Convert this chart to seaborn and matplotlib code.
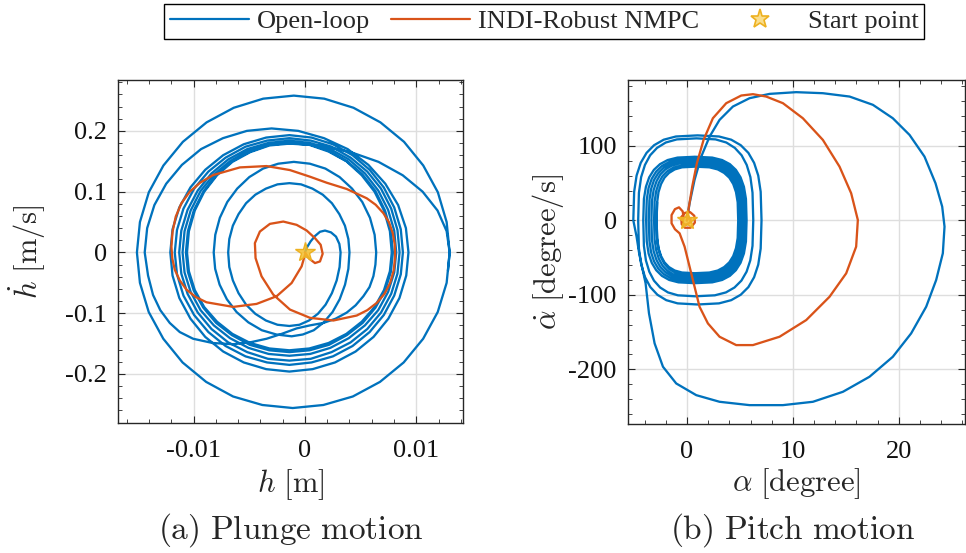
import numpy as np
import seaborn as sns
import matplotlib.pyplot as plt
from matplotlib.lines import Line2D
from matplotlib.ticker import MultipleLocator

sns.set_theme(style="white")
plt.rcParams['font.family'] = ['Liberation Serif', 'DejaVu Serif']
plt.rcParams['mathtext.fontset'] = 'cm'

# ---------------- data ----------------
# plunge phase portrait, open loop: (h in mm, hdot in m/s)
plunge_open = [
    (0, 0), (0.2, 0.009), (0.5, 0.018), (0.9, 0.027), (1.35, 0.034), (1.8, 0.036),
    (2.34, 0.033), (2.79, 0.026), (3.09, 0.014), (3.2, 0),
    (3.11, -0.024), (2.85, -0.046), (2.42, -0.067), (1.85, -0.086), (1.16, -0.101), (0.36, -0.112), (-0.50, -0.119), (-1.4, -0.121),
    (-2.47, -0.119), (-3.51, -0.112), (-4.46, -0.101), (-5.29, -0.086), (-5.97, -0.067), (-6.48, -0.046), (-6.80, -0.024), (-6.9, 0),
    (-6.80, 0.022), (-6.48, 0.044), (-5.97, 0.063), (-5.29, 0.081), (-4.46, 0.095), (-3.51, 0.105), (-2.47, 0.112), (-1.4, 0.114),
    (-0.35, 0.112), (0.67, 0.105), (1.60, 0.095), (2.42, 0.081), (3.09, 0.063), (3.59, 0.044), (3.90, 0.022), (4.0, 0),
    (3.90, -0.027), (3.60, -0.053), (3.12, -0.077), (2.48, -0.098), (1.69, -0.115), (0.79, -0.128), (-0.19, -0.135), (-1.2, -0.138),
    (-2.57, -0.135), (-3.88, -0.128), (-5.09, -0.115), (-6.15, -0.098), (-7.02, -0.077), (-7.67, -0.053), (-8.07, -0.027), (-8.2, 0),
    (-8.06, 0.029), (-7.65, 0.057), (-6.98, 0.083), (-6.09, 0.105), (-5.00, 0.124), (-3.76, 0.138), (-2.40, 0.146), (-1.0, 0.149),
    (0.44, 0.146), (1.83, 0.138), (3.11, 0.124), (4.23, 0.105), (5.15, 0.083), (5.84, 0.057), (6.26, 0.029), (6.4, 0),
    (6.33, -0.020), (6.15, -0.039), (5.80, -0.057), (5.25, -0.072), (4.55, -0.087), (3.75, -0.099), (2.75, -0.109),
    (1.65, -0.116), (0.45, -0.120), (-0.75, -0.125), (-2.10, -0.134), (-3.45, -0.142), (-4.95, -0.148), (-6.45, -0.151),
    (-8.30, -0.149), (-10.05, -0.142), (-11.25, -0.131), (-12.15, -0.116), (-13.00, -0.095), (-13.65, -0.070),
    (-14.10, -0.038), (-14.4, 0),
    (-14.18, 0.040), (-13.53, 0.078), (-12.47, 0.113), (-11.06, 0.144), (-9.34, 0.170), (-7.37, 0.188), (-5.22, 0.200), (-3.0, 0.204),
    (-0.60, 0.200), (1.71, 0.188), (3.84, 0.170), (5.70, 0.144), (7.22, 0.113), (8.37, 0.078), (9.07, 0.040), (9.3, 0),
    (9.10, -0.038), (8.49, -0.075), (7.49, -0.109), (6.16, -0.139), (4.55, -0.163), (2.70, -0.181), (0.69, -0.192), (-1.4, -0.196),
    (-3.49, -0.192), (-5.50, -0.181), (-7.35, -0.163), (-8.96, -0.139), (-10.29, -0.109), (-11.29, -0.075), (-11.90, -0.038), (-12.1, 0),
    (-11.90, 0.038), (-11.29, 0.074), (-10.29, 0.107), (-8.96, 0.136), (-7.35, 0.160), (-5.50, 0.178), (-3.49, 0.189), (-1.4, 0.193),
    # limit-cycle band
    (0.59, 0.189), (2.51, 0.178), (4.27, 0.160), (5.81, 0.136), (7.08, 0.107), (8.02, 0.074), (8.61, 0.038), (8.8, 0),
    (8.61, -0.036), (8.02, -0.071), (7.08, -0.103), (5.81, -0.131), (4.27, -0.154), (2.51, -0.171), (0.59, -0.181), (-1.4, -0.185),
    (-3.41, -0.181), (-5.34, -0.171), (-7.13, -0.154), (-8.68, -0.131), (-9.96, -0.103), (-10.92, -0.071), (-11.50, -0.036), (-11.7, 0),
    (-11.50, 0.037), (-10.92, 0.072), (-9.96, 0.105), (-8.68, 0.133), (-7.13, 0.156), (-5.34, 0.174), (-3.41, 0.184), (-1.4, 0.188),
    (0.53, 0.184), (2.39, 0.174), (4.10, 0.156), (5.60, 0.133), (6.83, 0.105), (7.75, 0.072), (8.31, 0.037), (8.5, 0),
    (8.31, -0.035), (7.75, -0.068), (6.83, -0.099), (5.60, -0.126), (4.10, -0.148), (2.39, -0.164), (0.53, -0.175), (-1.4, -0.178),
    (-3.33, -0.175), (-5.19, -0.164), (-6.90, -0.148), (-8.40, -0.126), (-9.63, -0.099), (-10.55, -0.068), (-11.11, -0.035), (-11.3, 0),
    (-11.11, 0.036), (-10.55, 0.070), (-9.63, 0.102), (-8.40, 0.130), (-6.90, 0.153), (-5.19, 0.170), (-3.33, 0.180), (-1.4, 0.184),
    (0.47, 0.180), (2.28, 0.170), (3.94, 0.153), (5.39, 0.130), (6.58, 0.102), (7.47, 0.070), (8.02, 0.036), (8.2, 0),
    (8.02, -0.033), (7.47, -0.065), (6.58, -0.095), (5.39, -0.120), (3.94, -0.141), (2.28, -0.157), (0.47, -0.167), (-1.4, -0.170),
    (-3.27, -0.167), (-5.08, -0.157), (-6.74, -0.141), (-8.19, -0.120), (-9.38, -0.095), (-10.27, -0.065), (-10.82, -0.033), (-11.0, 0),
    (-10.82, 0.035), (-10.27, 0.069), (-9.38, 0.101), (-8.19, 0.128), (-6.74, 0.150), (-5.08, 0.167), (-3.27, 0.178), (-1.4, 0.181),
    (0.41, 0.178), (2.16, 0.167), (3.77, 0.150), (5.18, 0.128), (6.33, 0.101), (7.19, 0.069), (7.72, 0.035), (7.9, 0),
    (7.72, -0.032), (7.19, -0.063), (6.33, -0.091), (5.18, -0.116), (3.77, -0.136), (2.16, -0.152), (0.41, -0.161), (-1.4, -0.164),
    (-3.21, -0.161), (-4.96, -0.152), (-6.57, -0.136), (-7.98, -0.116), (-9.13, -0.091), (-9.99, -0.063), (-10.52, -0.032), (-10.7, 0),
    (-10.52, 0.035), (-9.99, 0.069), (-9.13, 0.100), (-7.98, 0.127), (-6.57, 0.150), (-4.96, 0.166), (-3.21, 0.177), (-1.4, 0.180),
    (0.39, 0.177), (2.12, 0.166), (3.72, 0.150), (5.10, 0.127), (6.25, 0.100), (7.10, 0.069), (7.63, 0.035), (7.8, 0),
    (7.63, -0.031), (7.10, -0.062), (6.25, -0.090), (5.10, -0.114), (3.72, -0.134), (2.12, -0.149), (0.39, -0.158), (-1.4, -0.161),
    (-3.19, -0.158), (-4.92, -0.149), (-6.52, -0.134), (-7.90, -0.114), (-9.05, -0.090), (-9.90, -0.062), (-10.43, -0.031), (-10.6, 0),
    (-10.43, 0.035), (-9.90, 0.069), (-9.05, 0.100), (-7.90, 0.127), (-6.52, 0.149), (-4.92, 0.165), (-3.19, 0.176), (-1.4, 0.179),
    # outer excursion
    (1.41, 0.176), (4.12, 0.165), (6.61, 0.149), (8.78, 0.127), (10.57, 0.100), (11.91, 0.069), (12.73, 0.035), (13.0, 0),
    (12.73, -0.050), (11.93, -0.098), (10.62, -0.142), (8.87, -0.181), (6.74, -0.213), (4.30, -0.237), (1.65, -0.251), (-1.1, -0.256),
    (-3.83, -0.251), (-6.46, -0.237), (-8.88, -0.213), (-11.0, -0.181), (-12.73, -0.142), (-14.04, -0.098), (-14.83, -0.050), (-15.1, 0),
    (-14.83, 0.050), (-14.03, 0.099), (-12.72, 0.143), (-10.97, 0.182), (-8.84, 0.214), (-6.40, 0.238), (-3.75, 0.253), (-1.0, 0.258),
    (1.73, 0.253), (4.36, 0.238), (6.78, 0.214), (8.90, 0.182), (10.63, 0.143), (11.94, 0.099), (12.73, 0.050), (13.0, 0),
    (12.85, -0.03),
]

# plunge phase portrait, INDI-Robust NMPC: (h in mm, hdot in m/s)
plunge_indi = [
    (0, 0), (0.39, -0.0104), (0.90, -0.0175), (1.35, -0.0148), (1.59, -0.0022),
    (1.41, 0.0126), (0.90, 0.0235), (0.15, 0.0361), (-0.75, 0.0454), (-1.95, 0.0508),
    (-3.15, 0.0470), (-4.05, 0.0344), (-4.50, 0.0153), (-4.44, -0.0093),
    (-3.90, -0.0393), (-2.85, -0.0694), (-1.35, -0.0940), (0.45, -0.1076),
    (2.55, -0.1120), (4.65, -0.1038), (5.60, -0.0950), (6.45, -0.0831), (7.15, -0.0680),
    (7.65, -0.0503), (7.98, -0.0290), (8.10, -0.0066), (8.07, 0.0130), (7.89, 0.0317),
    (7.55, 0.0495), (7.05, 0.0645), (6.35, 0.0785), (5.55, 0.0891),
    (3.75, 0.1044), (1.95, 0.1147), (0.45, 0.1246), (-1.35, 0.1355),
    (-3.45, 0.1421), (-5.85, 0.1399), (-8.25, 0.1273), (-9.40, 0.1150), (-10.35, 0.1000),
    (-11.10, 0.0810), (-11.61, 0.0590), (-11.90, 0.0340), (-12.0, 0.0098), (-11.92, -0.0100),
    (-11.70, -0.0284), (-11.25, -0.0460), (-10.65, -0.0612), (-9.80, -0.0735),
    (-8.85, -0.0820), (-6.45, -0.0896), (-4.35, -0.0847), (-2.55, -0.0721),
    (-1.20, -0.0503), (-0.30, -0.0229), (0, -0.0038),
]

# pitch phase portrait, open loop: (alpha in degree, alphadot in degree/s)
pitch_open = [
    (0, 0), (0.25, 22.8), (0.72, 54.2), (1.35, 85.5), (2.14, 112.4), (3.08, 134.8),
    (4.34, 152.7), (5.91, 163.9), (7.80, 169.7), (10.31, 172.0), (12.83, 170.6),
    (15.35, 166.1), (17.55, 155.0), (19.43, 137.0), (21.01, 114.6), (22.42, 85.5),
    (23.46, 49.7), (24.09, 18.4), (24.31, -8.5), (24.15, -44.3), (23.52, -80.2),
    (22.58, -116.0), (21.16, -151.8), (19.43, -183.2), (17.23, -210.0),
    (14.72, -230.2), (11.89, -243.6), (9.06, -248.1), (5.91, -248.1), (3.08, -243.6),
    (0.88, -234.7), (-1.01, -219.0), (-2.26, -196.6), (-3.05, -165.2),
    (-3.58, -124.9), (-3.90, -84.6), (-4.2, -65), (-4.5, -45), (-4.75, -22), (-5.06, 0),
    (-4.98, 38.3), (-4.75, 60.1), (-4.36, 77.1), (-3.81, 90.5), (-3.10, 100.8), (-2.19, 108.2), (-1.04, 112.5), (1.0, 114),
    (3.03, 112.5), (4.18, 108.2), (5.08, 100.8), (5.80, 90.5), (6.34, 77.1), (6.73, 60.1), (6.96, 38.3), (7.04, 0),
    (6.96, -38.0), (6.73, -59.6), (6.34, -76.4), (5.80, -89.7), (5.08, -99.9), (4.18, -107.2), (3.03, -111.5), (1.0, -113),
    (-0.88, -111.5), (-1.95, -107.2), (-2.79, -99.9), (-3.45, -89.7), (-3.95, -76.4), (-4.31, -59.6), (-4.53, -38.0), (-4.6, 0),
    (-4.53, 37.0), (-4.32, 58.0), (-3.96, 74.4), (-3.47, 87.3), (-2.82, 97.2), (-2.00, 104.4), (-0.95, 108.6), (0.9, 110),
    (2.70, 108.6), (3.72, 104.4), (4.52, 97.2), (5.16, 87.3), (5.64, 74.4), (5.99, 58.0), (6.19, 37.0), (6.26, 0),
    (6.19, -34.3), (5.98, -53.8), (5.63, -69.0), (5.14, -81.0), (4.49, -90.2), (3.68, -96.8), (2.63, -100.7), (0.8, -102),
    (-0.85, -100.7), (-1.79, -96.8), (-2.53, -90.2), (-3.11, -81.0), (-3.55, -69.0), (-3.87, -53.8), (-4.06, -34.3), (-4.12, 0),
    # limit-cycle band
    (-4.06, 28.7), (-3.87, 45.0), (-3.56, 57.7), (-3.12, 67.7), (-2.54, 75.4), (-1.82, 80.9), (-0.89, 84.2), (0.75, 85.3),
    (2.39, 84.2), (3.32, 80.9), (4.05, 75.4), (4.62, 67.7), (5.06, 57.7), (5.38, 45.0), (5.57, 28.7), (5.63, 0),
    (5.57, -28.4), (5.38, -44.5), (5.06, -57.1), (4.62, -67.0), (4.05, -74.6), (3.32, -80.1), (2.39, -83.3), (0.75, -84.4),
    (-0.80, -83.3), (-1.67, -80.1), (-2.36, -74.6), (-2.90, -67.0), (-3.32, -57.1), (-3.62, -44.5), (-3.79, -28.4), (-3.85, 0),
    (-3.79, 27.7), (-3.62, 43.5), (-3.32, 55.8), (-2.90, 65.5), (-2.36, 72.9), (-1.67, 78.3), (-0.80, 81.4), (0.75, 82.5),
    (2.34, 81.4), (3.24, 78.3), (3.94, 72.9), (4.50, 65.5), (4.92, 55.8), (5.23, 43.5), (5.41, 27.7), (5.47, 0),
    (5.41, -27.5), (5.23, -43.1), (4.92, -55.2), (4.50, -64.9), (3.94, -72.2), (3.24, -77.5), (2.34, -80.6), (0.75, -81.7),
    (-0.71, -80.6), (-1.54, -77.5), (-2.19, -72.2), (-2.70, -64.9), (-3.10, -55.2), (-3.38, -43.1), (-3.54, -27.5), (-3.6, 0),
    (-3.54, 26.9), (-3.38, 42.2), (-3.10, 54.1), (-2.70, 63.5), (-2.19, 70.7), (-1.54, 75.9), (-0.71, 79.0), (0.75, 80),
    (2.28, 79.0), (3.15, 75.9), (3.83, 70.7), (4.36, 63.5), (4.77, 54.1), (5.07, 42.2), (5.24, 26.9), (5.3, 0),
    (5.24, -26.5), (5.07, -41.6), (4.77, -53.4), (4.36, -62.7), (3.83, -69.8), (3.15, -75.0), (2.28, -78.0), (0.75, -79),
    (-0.63, -78.0), (-1.41, -75.0), (-2.02, -69.8), (-2.51, -62.7), (-2.87, -53.4), (-3.14, -41.6), (-3.30, -26.5), (-3.35, 0),
    (-3.30, 26.0), (-3.14, 40.8), (-2.87, 52.4), (-2.51, 61.5), (-2.02, 68.5), (-1.41, 73.5), (-0.63, 76.5), (0.75, 77.5),
    (2.23, 76.5), (3.07, 73.5), (3.72, 68.5), (4.24, 61.5), (4.64, 52.4), (4.93, 40.8), (5.09, 26.0), (5.15, 0),
    (5.09, -25.7), (4.93, -40.3), (4.64, -51.7), (4.24, -60.7), (3.72, -67.6), (3.07, -72.6), (2.23, -75.5), (0.75, -76.5),
    (-0.54, -75.5), (-1.28, -72.6), (-1.85, -67.6), (-2.31, -60.7), (-2.65, -51.7), (-2.90, -40.3), (-3.05, -25.7), (-3.1, 0),
    (-3.05, 25.0), (-2.90, 39.3), (-2.65, 50.4), (-2.31, 59.2), (-1.85, 65.9), (-1.28, 70.7), (-0.54, 73.5), (0.75, 74.5),
    (2.18, 73.5), (2.99, 70.7), (3.62, 65.9), (4.12, 59.2), (4.51, 50.4), (4.78, 39.3), (4.94, 25.0), (5.0, 0),
    (4.94, -24.8), (4.78, -38.8), (4.51, -49.8), (4.12, -58.5), (3.62, -65.2), (2.99, -69.9), (2.18, -72.7), (0.75, -73.7),
    (-0.46, -72.7), (-1.15, -69.9), (-1.69, -65.2), (-2.12, -58.5), (-2.44, -49.8), (-2.68, -38.8), (-2.81, -24.8), (-2.86, 0),
    (-2.81, 24.2), (-2.68, 37.9), (-2.44, 48.7), (-2.12, 57.2), (-1.69, 63.6), (-1.15, 68.3), (-0.46, 71.1), (0.75, 72),
    (2.12, 71.1), (2.91, 68.3), (3.51, 63.6), (4.00, 57.2), (4.37, 48.7), (4.63, 37.9), (4.79, 24.2), (4.84, 0),
    (4.79, -23.9), (4.63, -37.4), (4.37, -48.0), (4.00, -56.4), (3.51, -62.8), (2.91, -67.4), (2.12, -70.1), (0.75, -71),
    (-0.46, -70.1), (-1.15, -67.4), (-1.69, -62.8), (-2.12, -56.4), (-2.44, -48.0), (-2.68, -37.4), (-2.81, -23.9), (-2.86, 0),
    (-2.81, 24.2),
]

# pitch phase portrait, INDI-Robust NMPC: (alpha in degree, alphadot in degree/s)
pitch_indi = [
    (0, 0), (0.19, 18.4), (0.50, 45.2), (0.94, 76.6), (1.57, 107.9), (2.45, 137.0),
    (3.71, 157.2), (5.13, 167.5), (6.23, 169.3), (7.48, 166.1), (9.06, 157.2),
    (10.94, 137.0), (12.83, 107.9), (14.40, 72.1), (15.50, 36.3), (16.13, 0.4),
    (15.97, -35.4), (15.03, -71.2), (13.46, -102.6), (11.26, -133.9), (8.74, -156.3),
    (6.23, -167.5), (4.65, -167.5), (3.08, -156.3), (1.98, -138.4), (1.19, -116.0),
    (0.72, -89.1), (0.25, -62.2), (-0.22, -35.4), (-0.69, -17.5), (-1.13, -12),
    (-1.45, -4), (-1.45, 7), (-1.13, 15), (-0.75, 17.4), (-0.4, 12), (-0.3, 3),
    (-0.5, -5), (-0.2, -10), (0.35, -10), (0.75, -3), (0.7, 6), (0.3, 11),
    (-0.2, 10), (-0.55, 4), (-0.5, -3), (-0.1, -6), (0.3, -3), (0.35, 2),
    (0.05, 3), (0, 0),
]

start_point = (0, 0)

series_names = ["Open-loop", "INDI-Robust NMPC", "Start point"]

plunge_xticks = [-0.01, 0, 0.01]
plunge_xticklabels = ["-0.01", "0", "0.01"]
plunge_yticks = [-0.2, -0.1, 0, 0.1, 0.2]
plunge_yticklabels = ["-0.2", "-0.1", "0", "0.1", "0.2"]
pitch_xticks = [0, 10, 20]
pitch_xticklabels = ["0", "10", "20"]
pitch_yticks = [-200, -100, 0, 100]
pitch_yticklabels = ["-200", "-100", "0", "100"]

# ---------------- styling ----------------
blue = "#0072BD"
orange = "#D95319"
gold = "#EDB120"
star_face = (0.96, 0.75, 0.18, 0.85)
ink = "#262626"

fig = plt.figure(figsize=(9.66, 5.53), dpi=100)
ax1 = fig.add_axes([0.1225, 0.235, 0.3568, 0.620])
ax2 = fig.add_axes([0.650, 0.2333, 0.3485, 0.622])


def draw(ax, pts, color, xscale=1.0):
    arr = np.array(pts, dtype=float)
    sns.lineplot(x=arr[:, 0] * xscale, y=arr[:, 1], sort=False, estimator=None,
                 color=color, lw=1.65, ax=ax)


draw(ax1, plunge_open, blue, 1e-3)   # mm -> m
draw(ax1, plunge_indi, orange, 1e-3)
draw(ax2, pitch_open, blue)
draw(ax2, pitch_indi, orange)
for ax in (ax1, ax2):
    ax.plot([start_point[0]], [start_point[1]], ls="none", marker="*", ms=15,
            mfc=star_face, mec=gold, mew=1.0, zorder=5)


def style(ax, xlim, ylim, xt, xtl, yt, ytl, xminor, yminor):
    ax.set_xlim(*xlim)
    ax.set_ylim(*ylim)
    ax.set_xticks(xt)
    ax.set_xticklabels(xtl)
    ax.set_yticks(yt)
    ax.set_yticklabels(ytl)
    ax.xaxis.set_minor_locator(MultipleLocator(xminor))
    ax.yaxis.set_minor_locator(MultipleLocator(yminor))
    ax.set_xlabel("")
    ax.set_ylabel("")
    ax.tick_params(which="both", direction="in", top=True, right=True,
                   bottom=True, left=True, color=ink)
    ax.tick_params(which="major", length=5, width=0.8, labelsize=19,
                   labelcolor="#111111")
    ax.tick_params(which="minor", length=3, width=0.6)
    ax.tick_params(axis="x", which="major", pad=12)
    ax.tick_params(axis="y", which="major", pad=8)
    ax.grid(True, which="major", color="#DEDEDE", lw=1.0)
    ax.set_axisbelow(True)
    for sp in ax.spines.values():
        sp.set_visible(True)
        sp.set_color(ink)
        sp.set_linewidth(1.0)


style(ax1, (-0.01677, 0.0142), (-0.2807, 0.2834), plunge_xticks, plunge_xticklabels,
      plunge_yticks, plunge_yticklabels, 0.002, 0.02)
style(ax2, (-5.57, 26.2), (-273.4, 188.3), pitch_xticks, pitch_xticklabels,
      pitch_yticks, pitch_yticklabels, 2, 20)

# axis labels and captions
ax1.text(0.5, -0.178, r"$h\ [\mathrm{m}]$", transform=ax1.transAxes,
         ha="center", va="center", fontsize=22)
ax1.text(-0.265, 0.5, r"$\dot{h}\ [\mathrm{m/s}]$", transform=ax1.transAxes,
         ha="center", va="center", rotation=90, fontsize=22)
ax2.text(0.5, -0.174, r"$\alpha\ [\mathrm{degree}]$", transform=ax2.transAxes,
         ha="center", va="center", fontsize=22)
ax2.text(-0.238, 0.5, r"$\dot{\alpha}\ [\mathrm{degree/s}]$", transform=ax2.transAxes,
         ha="center", va="center", rotation=90, fontsize=22)
fig.text(0.301, 0.0416, r"$\mathrm{(a)\ Plunge\ motion}$", ha="center", va="center",
         fontsize=24)
fig.text(0.821, 0.0416, r"$\mathrm{(b)\ Pitch\ motion}$", ha="center", va="center",
         fontsize=24)

# legend
handles = [
    Line2D([], [], color=blue, lw=1.6),
    Line2D([], [], color=orange, lw=1.6),
    Line2D([], [], ls="none", marker="*", ms=14, mfc=(0.98, 0.87, 0.55, 1.0),
           mec=gold, mew=1.2),
]
leg = fig.legend(handles, series_names, loc="center",
                 bbox_to_anchor=(544 / 966, 1 - 21.5 / 553), ncol=3, frameon=True,
                 fancybox=False, edgecolor="black", framealpha=1, fontsize=19,
                 handlelength=3.0, handletextpad=0.3, columnspacing=0.8,
                 borderpad=0.2, borderaxespad=0)
leg.get_frame().set_linewidth(1.0)

fig.savefig("out.png", dpi=100)
